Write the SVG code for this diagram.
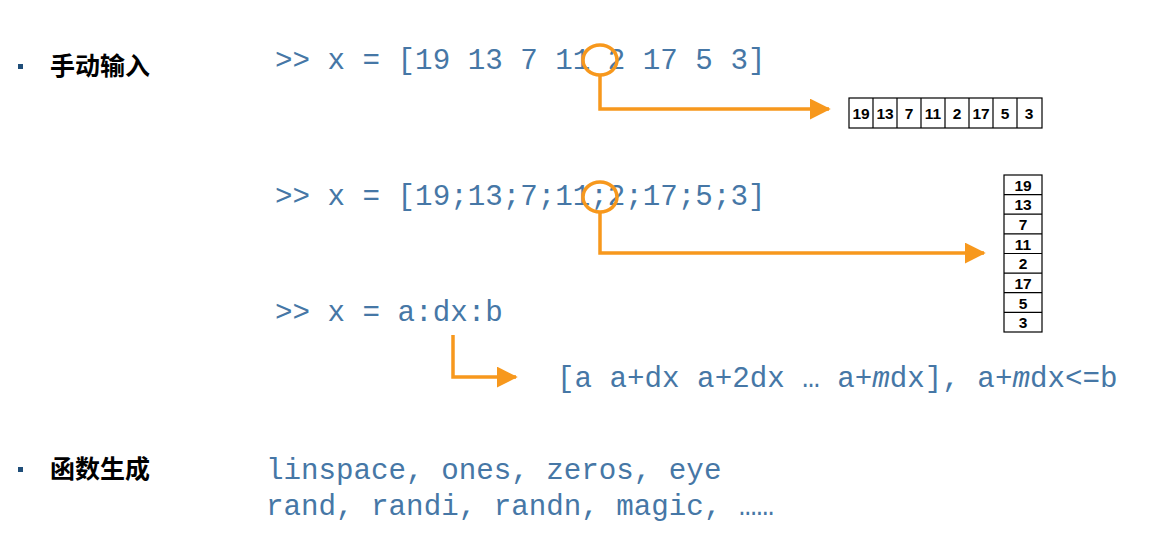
<svg xmlns="http://www.w3.org/2000/svg" width="1157" height="542" viewBox="0 0 1157 542">
<style>
.code{font-family:"Liberation Mono",monospace;font-size:29.2px;fill:#4677a6}
.lbl{font-family:"Liberation Sans","Noto Sans CJK SC",sans-serif;font-size:25px;font-weight:bold;fill:#000}
.cell{fill:#fff;stroke:#000;stroke-width:1.2}
.num{font-family:"Liberation Sans",sans-serif;font-size:15.5px;font-weight:bold;text-anchor:middle}
.con{fill:none;stroke:#f7981d;stroke-width:3.5}
</style>
<defs><marker id="ah" markerWidth="6" markerHeight="6" refX="5.5" refY="3" orient="auto" markerUnits="strokeWidth"><path d="M0,0L6,3L0,6z" fill="#f7981d"/></marker></defs>
<rect width="1157" height="542" fill="#fff"/>
<g id="labels">
<rect x="18" y="64" width="5" height="5" fill="#1f4e79"/>
<text class="lbl" x="50" y="75">手动输入</text>
<rect x="18" y="467" width="5" height="5" fill="#1f4e79"/>
<text class="lbl" x="50" y="478">函数生成</text>
</g>
<g id="code">
<text class="code" x="275" y="69">&gt;&gt; x = [19 13 7 11 2 17 5 3]</text>
<text class="code" x="275" y="205">&gt;&gt; x = [19;13;7;11;2;17;5;3]</text>
<text class="code" x="275" y="321">&gt;&gt; x = a:dx:b</text>
<text class="code" x="557" y="387" font-size="28.3px">[a a+dx a+2dx … a+<tspan font-style="italic">m</tspan>dx], a+<tspan font-style="italic">m</tspan>dx&lt;=b</text>
<text class="code" x="266" y="479">linspace, ones, zeros, eye</text>
<text class="code" x="266" y="515">rand, randi, randn, magic, ……</text>
</g>
<g id="row">
<rect class="cell" x="849" y="98" width="193" height="30" stroke-width="2"/>
<path d="M873 98v30M897 98v30M921 98v30M945 98v30M969 98v30M993 98v30M1017 98v30" stroke="#000" stroke-width="1.2"/>
<text class="num" y="119"><tspan x="861">19</tspan><tspan x="885">13</tspan><tspan x="909">7</tspan><tspan x="933">11</tspan><tspan x="957">2</tspan><tspan x="981">17</tspan><tspan x="1005">5</tspan><tspan x="1029">3</tspan></text>
</g>
<g id="col">
<rect class="cell" x="1004" y="175" width="38" height="157" stroke-width="2"/>
<path d="M1004 194.6h38M1004 214.2h38M1004 233.9h38M1004 253.5h38M1004 273.1h38M1004 292.7h38M1004 312.4h38" stroke="#000" stroke-width="1.2"/>
<text class="num"><tspan x="1023" y="190.5">19</tspan><tspan x="1023" y="210">13</tspan><tspan x="1023" y="230">7</tspan><tspan x="1023" y="249.5">11</tspan><tspan x="1023" y="269">2</tspan><tspan x="1023" y="289">17</tspan><tspan x="1023" y="308.5">5</tspan><tspan x="1023" y="328">3</tspan></text>
</g>
<g id="connectors">
<ellipse class="con" cx="600" cy="60" rx="17" ry="15"/>
<path class="con" d="M600 75V109H829" marker-end="url(#ah)"/>
<ellipse class="con" cx="600" cy="197" rx="17" ry="15"/>
<path class="con" d="M600 212V253H984" marker-end="url(#ah)"/>
<path class="con" d="M453 335V377H516" marker-end="url(#ah)"/>
</g>
</svg>
